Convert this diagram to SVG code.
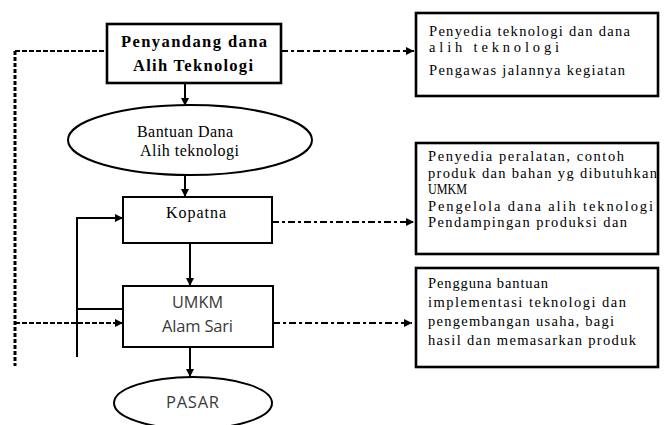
<svg xmlns="http://www.w3.org/2000/svg" width="664" height="425" viewBox="0 0 664 425">
<defs>
<marker id="ah" viewBox="0 0 10 10" refX="10" refY="5" markerWidth="9" markerHeight="8" markerUnits="userSpaceOnUse" orient="auto">
<path d="M0,0 L10,5 L0,10 Z" fill="#000"/>
</marker>
</defs>
<style>
.serif{font-family:'Liberation Serif','Times New Roman',serif;font-size:14.5px;fill:#000}
.mid{font-size:16px}
.bold{font-weight:bold;font-size:16.5px}
.sans{font-family:'Open Sans','Liberation Sans',sans-serif;font-size:16.5px;fill:#3a3a3a}
.box{fill:#fff;stroke:#000;stroke-width:2}
.thick{fill:#fff;stroke:#000;stroke-width:2.6}
.ell{fill:#fff;stroke:#000;stroke-width:2}
.solid{fill:none;stroke:#000;stroke-width:2}
.dash{fill:none;stroke:#000;stroke-width:2;stroke-dasharray:5 2}
.vdash{fill:none;stroke:#000;stroke-width:3;stroke-dasharray:4 2}
.dashdot{fill:none;stroke:#000;stroke-width:2;stroke-dasharray:7 3 3 3}
</style>
<rect width="664" height="425" fill="#fff"/>
<g id="connectors">
<path class="vdash" d="M15,51 V366"/>
<path class="dash" d="M15,51 H107"/>
<path class="dash" d="M15,323 H123" marker-end="url(#ah)"/>
<path class="dashdot" d="M281,51 H414" marker-end="url(#ah)"/>
<path class="dashdot" d="M272,222 H414" marker-end="url(#ah)"/>
<path class="dashdot" d="M273,323 H412" marker-end="url(#ah)"/>
<path class="solid" d="M185,83 V106" marker-end="url(#ah)"/>
<path class="solid" d="M185,175 V197" marker-end="url(#ah)"/>
<path class="solid" d="M190,243 V286" marker-end="url(#ah)"/>
<path class="solid" d="M190,347 V377" marker-end="url(#ah)"/>
<path class="solid" d="M77,357 V218 H123" marker-end="url(#ah)"/>
<path class="solid" d="M77,309 H123"/>
</g>
<g id="penyandang">
<rect class="thick" x="107" y="24" width="174" height="59"/>
<text class="serif bold" x="121" y="47" textLength="146" lengthAdjust="spacing">Penyandang dana</text>
<text class="serif bold" x="133" y="71" textLength="120" lengthAdjust="spacing">Alih Teknologi</text>
</g>
<g id="bantuan">
<ellipse class="ell" cx="190" cy="140" rx="122" ry="35"/>
<text class="serif mid" x="137" y="137" textLength="96" lengthAdjust="spacing">Bantuan Dana</text>
<text class="serif mid" x="140" y="156" textLength="99" lengthAdjust="spacing">Alih teknologi</text>
</g>
<g id="kopatna">
<rect class="box" x="123" y="197" width="149" height="46"/>
<text class="serif mid" x="166" y="218" textLength="60" lengthAdjust="spacing">Kopatna</text>
</g>
<g id="umkm">
<rect class="box" x="123" y="286" width="150" height="61"/>
<text class="sans" x="172" y="308" textLength="51" lengthAdjust="spacingAndGlyphs">UMKM</text>
<text class="sans" x="162" y="332" textLength="71" lengthAdjust="spacing">Alam Sari</text>
</g>
<g id="pasar">
<ellipse class="ell" cx="193" cy="403" rx="79" ry="26"/>
<text class="sans" x="166" y="408" textLength="53" lengthAdjust="spacing">PASAR</text>
</g>
<g id="desc1">
<rect class="thick" x="416" y="13" width="242" height="83"/>
<text class="serif" x="429" y="36" textLength="201" lengthAdjust="spacing">Penyedia teknologi dan dana</text>
<text class="serif" x="429" y="52" textLength="130" lengthAdjust="spacing">alih teknologi</text>
<text class="serif" x="429" y="75" textLength="196" lengthAdjust="spacing">Pengawas jalannya kegiatan</text>
</g>
<g id="desc2">
<rect class="thick" x="416" y="143" width="242" height="111"/>
<text class="serif" x="428" y="161" textLength="196" lengthAdjust="spacing">Penyedia peralatan,  contoh</text>
<text class="serif" x="428" y="177.5" textLength="229" lengthAdjust="spacing">produk dan bahan yg dibutuhkan</text>
<text class="serif" x="428" y="194" textLength="39" lengthAdjust="spacingAndGlyphs">UMKM</text>
<text class="serif" x="428" y="210.5" textLength="225" lengthAdjust="spacing">Pengelola dana alih teknologi</text>
<text class="serif" x="428" y="227" textLength="199" lengthAdjust="spacing">Pendampingan produksi dan</text>
</g>
<g id="desc3">
<rect class="thick" x="416" y="268" width="242" height="99"/>
<text class="serif" x="428" y="288" textLength="120" lengthAdjust="spacing">Pengguna bantuan</text>
<text class="serif" x="428" y="307" textLength="198" lengthAdjust="spacing">implementasi  teknologi dan</text>
<text class="serif" x="428" y="326" textLength="186" lengthAdjust="spacing">pengembangan usaha, bagi</text>
<text class="serif" x="428" y="345" textLength="208" lengthAdjust="spacing">hasil dan memasarkan produk</text>
</g>
</svg>
